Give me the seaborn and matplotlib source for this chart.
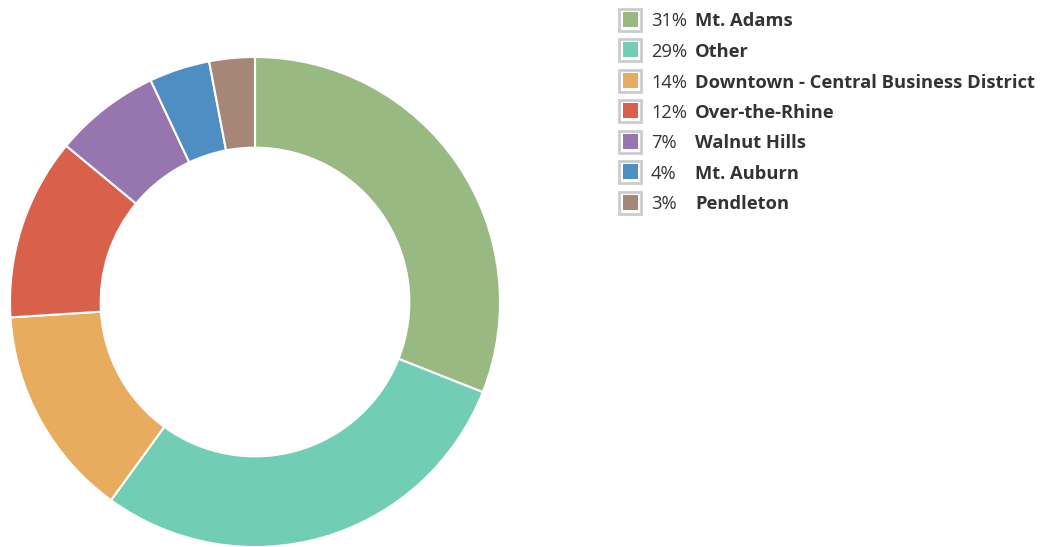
import matplotlib
matplotlib.use("Agg")
import matplotlib.pyplot as plt
import seaborn as sns
from matplotlib.patches import Rectangle

# Data
neighborhoods = ["Mt. Adams", "Other", "Downtown - Central Business District",
                 "Over-the-Rhine", "Walnut Hills", "Mt. Auburn", "Pendleton"]
shares = [31, 29, 14, 12, 7, 4, 3]
colors = ["#99B983", "#71CEB4", "#E7AC5D", "#D9604A", "#9775AF", "#4F8EC2", "#A68777"]

sns.set_theme(style="white")
plt.rcParams['font.family'] = ['Open Sans', 'DejaVu Sans']

W, H = 1044, 547
fig = plt.figure(figsize=(W / 100, H / 100), dpi=100)

# Donut chart
cx, cy, r = 255, 302, 245
ax = fig.add_axes([(cx - r) / W, (H - cy - r) / H, 2 * r / W, 2 * r / H])
ax.pie(shares, colors=colors, startangle=90, counterclock=False,
       wedgeprops=dict(width=0.37, edgecolor="white", linewidth=1.5))
ax.set_xlim(-1, 1)
ax.set_ylim(-1, 1)
ax.set_aspect("equal")
ax.axis("off")

# Legend
y0, step = 19.5, 30.5
for i, (name, val, col) in enumerate(zip(neighborhoods, shares, colors)):
    yc = y0 + i * step
    fig.add_artist(Rectangle((619 / W, (H - yc - 11) / H), 22 / W, 22 / H,
                             transform=fig.transFigure, facecolor="white",
                             edgecolor="#CCCCCC", linewidth=2))
    fig.add_artist(Rectangle((623 / W, (H - yc - 7) / H), 15 / W, 15 / H,
                             transform=fig.transFigure, facecolor=col,
                             edgecolor="none"))
    fig.text(651 / W, (H - yc - 2) / H, f"{val}%", fontsize=13.25, color="#333333",
             va="center", ha="left")
    fig.text(695 / W, (H - yc - 2) / H, name, fontsize=13.25, color="#333333",
             fontweight="bold", va="center", ha="left")

fig.savefig("out.png", dpi=100)
